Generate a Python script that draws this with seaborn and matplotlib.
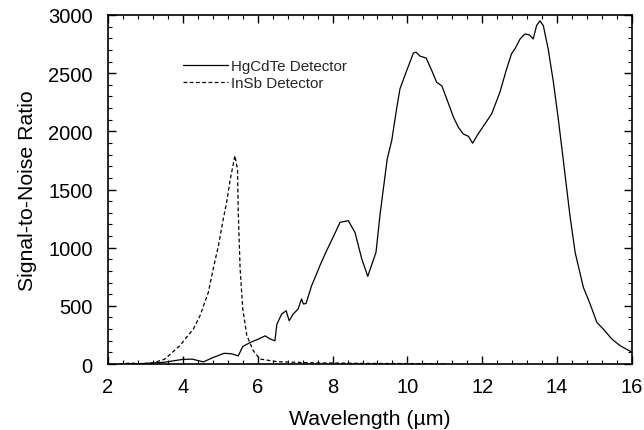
import matplotlib
matplotlib.use("Agg")
import matplotlib.pyplot as plt
import seaborn as sns
import pandas as pd
from matplotlib.ticker import MultipleLocator

hg_x = [2.5, 3.0, 3.5, 3.8, 4.0, 4.25, 4.55, 4.8, 5.1, 5.3, 5.48, 5.6, 5.8, 6.0, 6.2, 6.33, 6.46,
        6.51, 6.64, 6.76, 6.84, 6.95, 7.08, 7.17, 7.22, 7.29, 7.44, 7.58, 7.66, 7.84, 8.0, 8.2, 8.42,
        8.6, 8.78, 8.94, 9.16, 9.27, 9.46, 9.58, 9.71, 9.80, 9.98, 10.16, 10.23, 10.34, 10.50, 10.65,
        10.78, 10.92, 11.05, 11.23, 11.36, 11.49, 11.63, 11.74, 11.89, 12.07, 12.25, 12.47, 12.65,
        12.78, 12.87, 13.01, 13.14, 13.26, 13.36, 13.45, 13.54, 13.63, 13.76, 13.90, 14.03, 14.16,
        14.34, 14.48, 14.70, 14.88, 15.06, 15.23, 15.46, 15.68, 15.97, 16.0]
hg_y = [0, 5, 15, 30, 40, 42, 18, 55, 92, 88, 70, 150, 185, 212, 242, 215, 200,
        340, 430, 458, 372, 430, 473, 559, 516, 520, 673, 780, 845, 974, 1080, 1218, 1232,
        1130, 903, 754, 960, 1290, 1763, 1920, 2193, 2365, 2522, 2674, 2680, 2646, 2630, 2522,
        2422, 2390, 2279, 2121, 2035, 1978, 1957, 1898, 1978, 2064, 2150, 2336, 2537,
        2666, 2708, 2794, 2837, 2829, 2794, 2909, 2950, 2909, 2708, 2422, 2107, 1763,
        1280, 960, 659, 516, 358, 301, 215, 158, 106, 100]

insb_x = [2.3, 2.6, 2.9, 3.2, 3.5, 3.57, 3.92, 4.28, 4.46, 4.68, 4.81, 4.95, 5.08, 5.17, 5.26,
          5.39, 5.46, 5.48, 5.53, 5.60, 5.71, 5.88, 6.06, 6.51, 7.5, 9.0, 10.5, 11.0]
insb_y = [0, 8, 3, 10, 40, 57, 158, 301, 416, 616, 816, 1017, 1247, 1390, 1576,
          1791, 1676, 1304, 816, 473, 244, 115, 43, 20, 10, 5, 3, 0]

labels = ["HgCdTe Detector", "InSb Detector"]

df = pd.concat([
    pd.DataFrame({"Wavelength": hg_x, "SNR": hg_y, "Detector": labels[0]}),
    pd.DataFrame({"Wavelength": insb_x, "SNR": insb_y, "Detector": labels[1]}),
])

sns.set_theme(style="white")
plt.rcParams["font.family"] = ["Liberation Sans", "DejaVu Sans"]

fig = plt.figure(figsize=(6.44, 4.31), dpi=100)
ax = fig.add_axes([0.1677, 0.1531, 0.8137, 0.8098])

sns.lineplot(data=df, x="Wavelength", y="SNR", hue="Detector", style="Detector",
             palette=["black", "black"], dashes={labels[0]: "", labels[1]: (3, 2)},
             linewidth=0.9, ax=ax, sort=False, estimator=None)

ax.set_xlim(2, 16)
ax.set_ylim(0, 3000)
ax.xaxis.set_major_locator(MultipleLocator(2))
ax.xaxis.set_minor_locator(MultipleLocator(0.4))
ax.yaxis.set_major_locator(MultipleLocator(500))
ax.yaxis.set_minor_locator(MultipleLocator(100))
ax.tick_params(which="both", direction="in", top=True, right=True, bottom=True, left=True,
               colors="black", labelsize=14.5)
ax.tick_params(which="major", length=6, width=1)
ax.tick_params(which="minor", length=3, width=0.8)
ax.tick_params(axis="x", pad=9)
ax.tick_params(axis="y", pad=11)
for s in ax.spines.values():
    s.set_color("black")
    s.set_linewidth(1.2)

ax.set_xlabel("Wavelength (\u00b5m)", fontsize=15.3, color="black", labelpad=10)
ax.set_ylabel("Signal-to-Noise Ratio", fontsize=15.3, color="black", labelpad=8)

leg = ax.legend(loc="upper left", bbox_to_anchor=(0.143, 0.873), frameon=False,
                fontsize=10.9, handlelength=3.0, handletextpad=0.2, labelspacing=0.2,
                borderaxespad=0, borderpad=0)

fig.savefig("out.png", dpi=100)
